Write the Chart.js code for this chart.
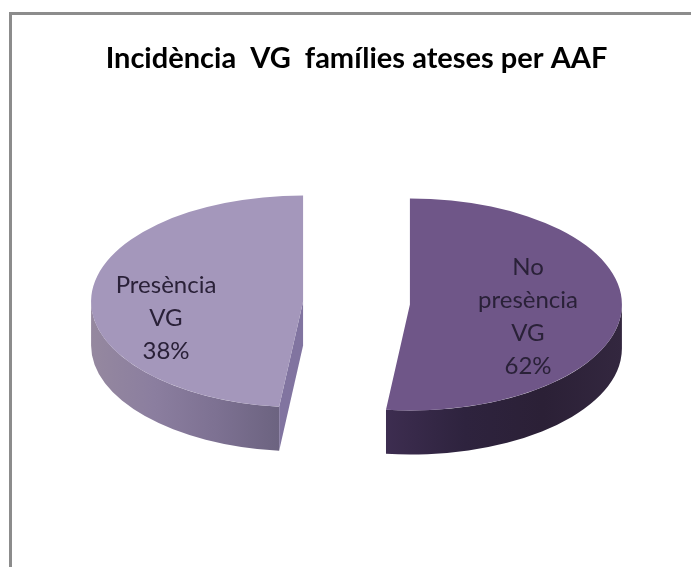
<!DOCTYPE html>
<html>
<head>
<meta charset="utf-8">
<title>Incidència VG</title>
<script src="https://cdn.jsdelivr.net/npm/chart.js@4"></script>
<style>
    html, body { margin: 0; padding: 0; background: #fff; overflow: hidden; }
    #wrap { position: relative; width: 691px; height: 567px; }
    #frame { position: absolute; left: 9px; top: 12px; right: 0; bottom: 0;
             border-left: 3px solid #8c8c8c; border-top: 3px solid #8c8c8c; }
    canvas { position: absolute; left: 0; top: 0; }
</style>
</head>
<body>
<div id="wrap">
    <div id="frame"></div>
    <canvas id="pieChart" width="691" height="567"></canvas>
</div>
<script>
const chartTitle = 'Incidència  VG  famílies ateses per AAF';
const categories = [['No', 'presència', 'VG'], ['Presència', 'VG']];
// Percentages printed on the slices
const printedPercent = [62, 38];
// Share of the circle each slice really covers in the picture (the source
// drawing does not follow its own labels, so the arcs are read separately)
const drawnShare = [51.8, 48.2];
const topColors = ['#6f5688', '#a497bb'];

// Look of the tilted pie
const tilt = 0.5;
const pieRadius = 212;
const pieDepth = 44;
const pieCenterY = 303;
const explode = 53.5;

const wallColors = [
    ['#3d2d50', '#2e233e', '#2b2036', '#33273f'],
    ['#95889f', '#8b7e9f', '#7d7192', '#6c6380']
];
const faceColor = '#8174a0';
const labelAnchors = [[528, 267], [166, 285]];

// Where a slice ends up on screen after the tilt
function sliceGeometry(chart, arc) {
    const midY = (chart.chartArea.top + chart.chartArea.bottom) / 2;
    return {
        cx: arc.x,
        cy: pieCenterY + (arc.y - midY) * tilt,
        rx: arc.outerRadius,
        ry: arc.outerRadius * tilt,
        start: arc.startAngle,
        end: arc.endAngle
    };
}

// Pulls the slices apart, draws the side walls and squashes the slices
const tiltedPie = {
    id: 'tiltedPie',
    afterDatasetsUpdate(chart) {
        chart.getDatasetMeta(0).data.forEach(arc => {
            const mid = (arc.startAngle + arc.endAngle) / 2;
            arc.x += Math.cos(mid) * explode;
            arc.y += Math.sin(mid) * explode;
        });
    },
    beforeDatasetsDraw(chart) {
        const ctx = chart.ctx;
        const arcs = chart.getDatasetMeta(0).data;
        arcs.forEach((arc, i) => {
            const g = sliceGeometry(chart, arc);
            const a0 = Math.max(g.start, 0);
            const a1 = Math.min(g.end, Math.PI);

            // cut face of a slice that starts in the lower left
            if (g.start > Math.PI / 2 && g.start < Math.PI) {
                const ox = g.cx + Math.cos(g.start) * g.rx;
                const oy = g.cy + Math.sin(g.start) * g.ry;
                ctx.beginPath();
                ctx.moveTo(g.cx, g.cy);
                ctx.lineTo(ox, oy);
                ctx.lineTo(ox, oy + pieDepth);
                ctx.lineTo(g.cx, g.cy + pieDepth);
                ctx.closePath();
                ctx.fillStyle = faceColor;
                ctx.fill();
            }

            const x0 = Math.min(g.cx + Math.cos(a0) * g.rx, g.cx + Math.cos(a1) * g.rx);
            const x1 = Math.max(g.cx + Math.cos(a0) * g.rx, g.cx + Math.cos(a1) * g.rx);
            const grad = ctx.createLinearGradient(x0, 0, x1, 0);
            wallColors[i].forEach((c, n) => grad.addColorStop(n / (wallColors[i].length - 1), c));
            ctx.beginPath();
            ctx.ellipse(g.cx, g.cy, g.rx, g.ry, 0, a0, a1);
            ctx.ellipse(g.cx, g.cy + pieDepth, g.rx, g.ry, 0, a1, a0, true);
            ctx.closePath();
            ctx.fillStyle = grad;
            ctx.fill();
        });

        const midY = (chart.chartArea.top + chart.chartArea.bottom) / 2;
        ctx.save();
        ctx.translate(0, pieCenterY);
        ctx.scale(1, tilt);
        ctx.translate(0, -midY);
    },
    afterDatasetsDraw(chart) {
        const ctx = chart.ctx;
        ctx.restore();

        // slice labels
        ctx.save();
        ctx.font = '24px Lato';
        ctx.fillStyle = '#2a2138';
        ctx.textAlign = 'center';
        ctx.textBaseline = 'middle';
        categories.forEach((lines, i) => {
            const [x, y] = labelAnchors[i];
            lines.concat(printedPercent[i] + '%').forEach((line, n) => {
                ctx.fillText(line, x, y + n * 33);
            });
        });
        ctx.restore();
    }
};

document.addEventListener('DOMContentLoaded', function() {
    const ctx = document.getElementById('pieChart').getContext('2d');
    new Chart(ctx, {
        type: 'pie',
        data: {
            labels: categories.map(c => c.join(' ')),
            datasets: [{
                data: drawnShare,
                backgroundColor: topColors,
                borderWidth: 0,
                hoverOffset: 0,
                radius: pieRadius,
                clip: false
            }]
        },
        options: {
            responsive: false,
            animation: false,
            layout: { padding: { left: 22 } },
            plugins: {
                legend: { display: false },
                tooltip: { enabled: false },
                title: {
                    display: true,
                    text: chartTitle,
                    color: '#000',
                    font: { family: 'Lato', size: 29, weight: 'bold' },
                    padding: { top: 41, bottom: 10 }
                }
            }
        },
        plugins: [tiltedPie]
    });
});
</script>
</body>
</html>
